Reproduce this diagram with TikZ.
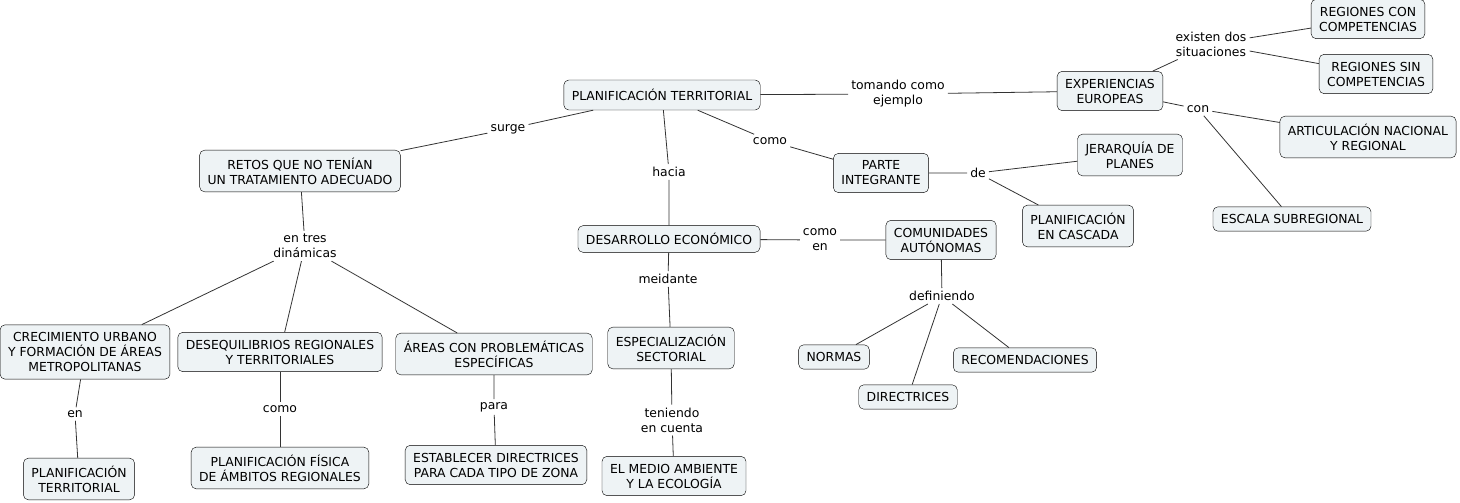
\documentclass[tikz,border=0pt]{standalone}
\usepackage{fontspec}
\setmainfont{DejaVu Sans}
\definecolor{boxfill}{HTML}{EEF3F5}
\definecolor{linegray}{HTML}{333333}
\tikzset{
    concept/.style={draw=black, fill=boxfill, rounded corners=5pt, align=center, inner xsep=8pt, inner ysep=7.5pt, font=\fontsize{12.4}{15}\selectfont},
    linkphrase/.style={align=center, inner sep=3pt, font=\fontsize{12.4}{15}\selectfont},
    link/.style={draw=linegray, line width=0.8pt}
}
\begin{document}
\begin{tikzpicture}[x=1pt, y=-1pt]
    \useasboundingbox (0, 0) rectangle (1460, 503);

    \node[concept, minimum height=30pt] (pt) at (662, 95) {PLANIFICACIÓN TERRITORIAL};
    \node[concept] (ee) at (1110, 91) {EXPERIENCIAS\\EUROPEAS};
    \node[concept] (rcc) at (1368, 19) {REGIONES CON\\COMPETENCIAS};
    \node[concept] (rsc) at (1376, 74) {REGIONES SIN\\COMPETENCIAS};
    \node[concept] (anr) at (1368, 137) {ARTICULACIÓN NACIONAL\\Y REGIONAL};
    \node[concept] (esc) at (1292, 219) {ESCALA SUBREGIONAL};
    \node[concept] (pi) at (881, 173) {PARTE\\INTEGRANTE};
    \node[concept] (jp) at (1130, 155) {JERARQUÍA DE\\PLANES};
    \node[concept] (pc) at (1078, 226) {PLANIFICACIÓN\\EN CASCADA};
    \node[concept] (retos) at (300, 171) {RETOS QUE NO TENÍAN\\UN TRATAMIENTO ADECUADO};
    \node[concept] (de) at (669, 239) {DESARROLLO ECONÓMICO};
    \node[concept] (ca) at (941, 240) {COMUNIDADES\\AUTÓNOMAS};
    \node[concept] (normas) at (834, 357) {NORMAS};
    \node[concept] (dir) at (908, 397) {DIRECTRICES};
    \node[concept] (rec) at (1025, 360) {RECOMENDACIONES};
    \node[concept] (esp) at (671, 348) {ESPECIALIZACIÓN\\SECTORIAL};
    \node[concept] (ema) at (674, 476) {EL MEDIO AMBIENTE\\Y LA ECOLOGÍA};
    \node[concept] (crec) at (85, 352) {CRECIMIENTO URBANO\\Y FORMACIÓN DE ÁREAS\\METROPOLITANAS};
    \node[concept] (deseq) at (280, 352) {DESEQUILIBRIOS REGIONALES\\Y TERRITORIALES};
    \node[concept] (areas) at (494, 354) {ÁREAS CON PROBLEMÁTICAS\\ESPECÍFICAS};
    \node[concept] (pt2) at (79, 479) {PLANIFICACIÓN\\TERRITORIAL};
    \node[concept] (pfa) at (280, 468) {PLANIFICACIÓN FÍSICA\\DE ÁMBITOS REGIONALES};
    \node[concept] (edz) at (496, 465) {ESTABLECER DIRECTRICES\\PARA CADA TIPO DE ZONA};

    % link phrases
    \node[linkphrase] (tomando) at (898, 94) {tomando como\\ejemplo};
    \node[linkphrase] (existen) at (1211, 44) {existen dos\\situaciones};
    \node[linkphrase] (con) at (1198, 109) {con};
    \node[linkphrase] (como1) at (770, 141) {como};
    \node[linkphrase] (de1) at (978, 173) {de};
    \node[linkphrase] (surge) at (508, 129) {surge};
    \node[linkphrase] (hacia) at (669, 172) {hacia};
    \node[linkphrase] (comoen) at (820, 240) {como\\en};
    \node[linkphrase] (meid) at (668, 279) {meidante};
    \node[linkphrase] (def) at (942, 296) {definiendo};
    \node[linkphrase] (tres) at (305, 246) {en tres\\dinámicas};
    \node[linkphrase] (ten) at (672, 420) {teniendo\\en cuenta};
    \node[linkphrase] (en1) at (75, 414) {en};
    \node[linkphrase] (como2) at (280, 409) {como};
    \node[linkphrase] (para) at (494, 407) {para};

    \draw[link] (pt) -- (tomando) -- (ee);
    \draw[link] (ee) -- (existen) -- (rcc);
    \draw[link] (existen) -- (rsc);
    \draw[link] (ee) -- (con) -- (anr);
    \draw[link] (con) -- (esc);
    \draw[link] (pt) -- (como1) -- (pi);
    \draw[link] (pi) -- (de1) -- (jp);
    \draw[link] (de1) -- (pc);
    \draw[link] (pt) -- (surge) -- (retos);
    \draw[link] (pt) -- (hacia) -- (de);
    \draw[link] (de) -- (comoen) -- (ca);
    \draw[link] (ca) -- (def) -- (normas);
    \draw[link] (def) -- (dir);
    \draw[link] (def) -- (rec);
    \draw[link] (de) -- (meid) -- (esp);
    \draw[link] (esp) -- (ten) -- (ema);
    \draw[link] (retos) -- (tres) -- (crec);
    \draw[link] (tres) -- (deseq);
    \draw[link] (tres) -- (areas);
    \draw[link] (crec) -- (en1) -- (pt2);
    \draw[link] (deseq) -- (como2) -- (pfa);
    \draw[link] (areas) -- (para) -- (edz);
\end{tikzpicture}
\end{document}
